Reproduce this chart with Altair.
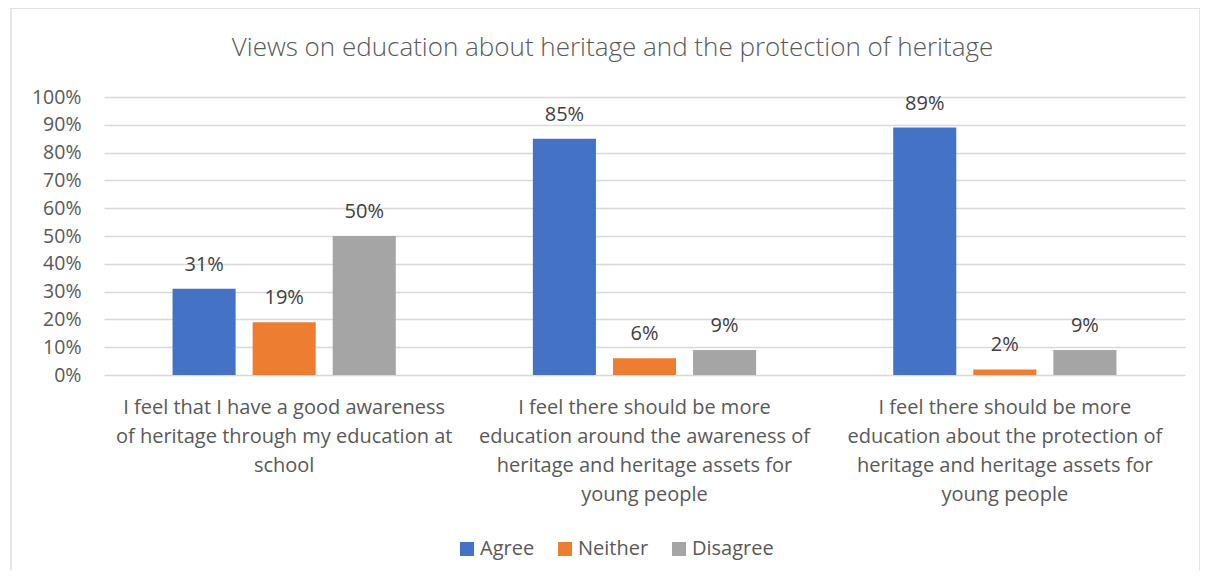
import altair as alt
import pandas as pd

categories = [
    "I feel that I have a good awareness|of heritage through my education at|school",
    "I feel there should be more|education around the awareness of|heritage and heritage assets for|young people",
    "I feel there should be more|education about the protection of|heritage and heritage assets for|young people",
]
series = ["Agree", "Neither", "Disagree"]
agree = [0.31, 0.85, 0.89]
neither = [0.19, 0.06, 0.02]
disagree = [0.50, 0.09, 0.09]
colors = ["#4472C4", "#ED7D31", "#A5A5A5"]
y_ticks = [0.0, 0.1, 0.2, 0.3, 0.4, 0.5, 0.6, 0.7, 0.8, 0.9, 1.0]

rows = []
for i, c in enumerate(categories):
    for s, vals in zip(series, [agree, neither, disagree]):
        rows.append({"cat": c, "series": s, "value": vals[i]})
df = pd.DataFrame(rows)

FONT = "Open Sans"
TXT = "#595959"

base = alt.Chart(df).encode(
    x=alt.X("cat:N", sort=categories, title=None,
            scale=alt.Scale(paddingInner=0, paddingOuter=0),
            axis=alt.Axis(labelAngle=0, labelExpr="split(datum.label, '|')",
                          labelFontSize=20, labelColor=TXT, labelFont=FONT,
                          labelLineHeight=29, labelPadding=22, ticks=False,
                          domain=False, labelLimit=400, labelBaseline="top")),
    xOffset=alt.XOffset("series:N", sort=series,
                        scale=alt.Scale(paddingInner=0.2125, paddingOuter=0.856)),
    y=alt.Y("value:Q", title=None,
            scale=alt.Scale(domain=[0, 1]),
            axis=alt.Axis(format="%", values=y_ticks,
                          labelOverlap=False,
                          labelFontSize=19.5, labelColor=TXT, labelFont=FONT,
                          ticks=False, domain=False, labelPadding=23,
                          gridColor="#D9D9D9", gridWidth=1.3)),
)

bars = base.mark_bar().encode(
    color=alt.Color("series:N", sort=series,
                    scale=alt.Scale(domain=series, range=colors),
                    legend=alt.Legend(title=None, orient="none", direction="horizontal",
                                      legendX=353, legendY=442,
                                      symbolType="square", symbolSize=196,
                                      symbolStrokeWidth=0, symbolOpacity=1,
                                      labelFontSize=20, labelColor=TXT, labelFont=FONT,
                                      columnPadding=20, labelOffset=3)),
)

labels = base.mark_text(baseline="bottom", dy=-14, fontSize=20, color="#404040",
                        font=FONT).encode(
    text=alt.Text("value:Q", format=".0%"),
)

border_df = pd.DataFrame({"a": [0]})
border = alt.Chart(border_df).mark_rect(fill=None, stroke="#D9D9D9", strokeWidth=1.3).encode(
    x=alt.value(-93), x2=alt.value(1096), y=alt.value(-89), y2=alt.value(600)
)

chart = alt.layer(border, bars, labels).properties(
    width=1081, height=278,
    autosize=alt.AutoSizeParams(type="none"),
    padding={"left": 96, "top": 89, "right": 15, "bottom": 195},
    title=alt.Title("Views on education about heritage and the protection of heritage",
                    fontSize=26, font=FONT, fontWeight=300, color=TXT,
                    dx=-32, offset=-54),
).configure_view(stroke=None)

chart.save("out.html", embed_options={"renderer": "svg", "actions": False})
